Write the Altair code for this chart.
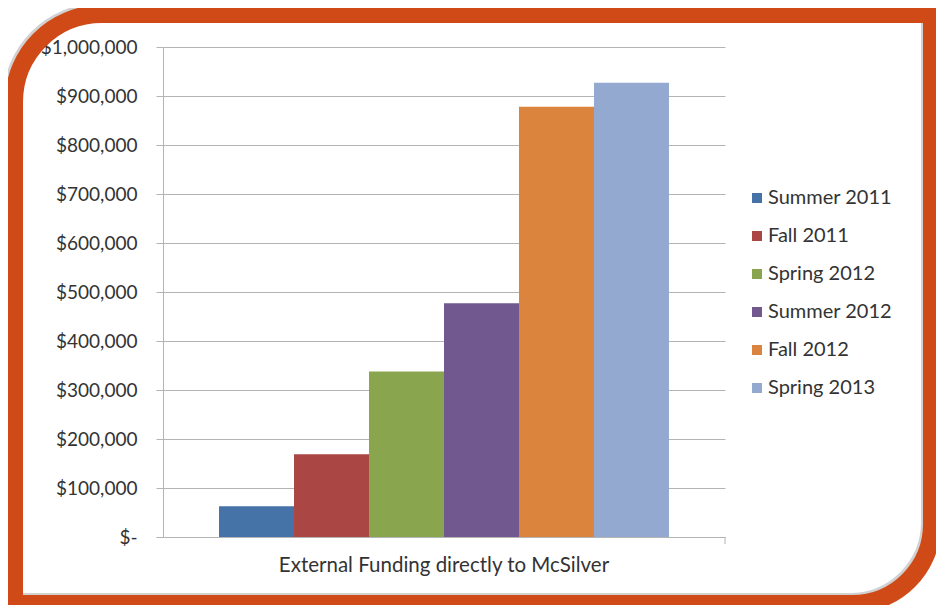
import altair as alt
import pandas as pd

category = ["External Funding directly to McSilver"]
terms = ["Summer 2011", "Fall 2011", "Spring 2012", "Summer 2012", "Fall 2012", "Spring 2013"]
funding = [63000, 169000, 338000, 477000, 878000, 927000]
colors = ["#4572A7", "#AA4643", "#89A54E", "#71588F", "#DB843D", "#93A9CF"]
y_ticks = [0, 100000, 200000, 300000, 400000, 500000, 600000, 700000, 800000, 900000, 1000000]

df = pd.DataFrame({"category": category * len(terms), "term": terms, "funding": funding})

W, H = 562, 490
FONT = "Lato"
TEXT = "#333333"
GRID = "#b4b4b4"
ORANGE = "#D04A17"

bars = alt.Chart(df).mark_bar(strokeWidth=0).encode(
    x=alt.X(
        "category:N",
        scale=alt.Scale(paddingInner=0, paddingOuter=0),
        axis=alt.Axis(
            title=None, ticks=False, labelAngle=0, labelPadding=18, labelLimit=0,
            labelFont=FONT, labelFontSize=20.5, labelColor=TEXT,
            domainColor=GRID, zindex=0,
        ),
    ),
    xOffset=alt.XOffset("term:N", sort=terms,
                        scale=alt.Scale(paddingInner=0, paddingOuter=0.747)),
    y=alt.Y(
        "funding:Q",
        scale=alt.Scale(domain=[0, 1000000], nice=False),
        axis=alt.Axis(
            title=None, values=y_ticks,
            labelExpr="datum.value == 0 ? '$-\u00a0\u00a0' : '$' + format(datum.value, ',')",
            labelFont=FONT, labelFontSize=19, labelColor=TEXT,
            tickSize=7, tickColor=GRID, labelPadding=19,
            grid=True, gridColor=GRID, domainColor=GRID, zindex=0,
        ),
    ),
    color=alt.Color(
        "term:N", sort=terms,
        scale=alt.Scale(domain=terms, range=colors),
        legend=alt.Legend(
            title=None, orient="none", legendX=584, legendY=141,
            symbolType="square", symbolSize=100, symbolStrokeWidth=0,
            labelFont=FONT, labelFontSize=20, labelColor=TEXT,
            labelOffset=1, rowPadding=18, padding=0,
        ),
    ),
)

deco = pd.DataFrame({"k": [0]})

axis_end_ticks = alt.Chart(deco).mark_rule(color=GRID, strokeWidth=1).encode(
    x=alt.value(W), y=alt.value(H), y2=alt.value(H + 7)
)

shadow = alt.Chart(deco).mark_rect(
    fillOpacity=0, stroke="#9a9a9a", strokeOpacity=0.45, strokeWidth=18,
    cornerRadiusTopLeft=88, cornerRadiusBottomRight=80,
).encode(x=alt.value(-151), x2=alt.value(767), y=alt.value(-35), y2=alt.value(555))

frame = alt.Chart(deco).mark_rect(
    fillOpacity=0, stroke=ORANGE, strokeWidth=18,
    cornerRadiusTopLeft=88, cornerRadiusBottomRight=80,
).encode(x=alt.value(-149), x2=alt.value(769), y=alt.value(-33), y2=alt.value(557))

chart = alt.layer(bars, axis_end_ticks, shadow, frame).properties(
    width=W, height=H,
    autosize=alt.AutoSizeParams(type="none"),
    padding={"left": 155, "top": 39, "right": 211, "bottom": 68},
    background="white",
).configure_view(stroke=None)

chart.save("out.html", embed_options={"renderer": "svg", "actions": False})
